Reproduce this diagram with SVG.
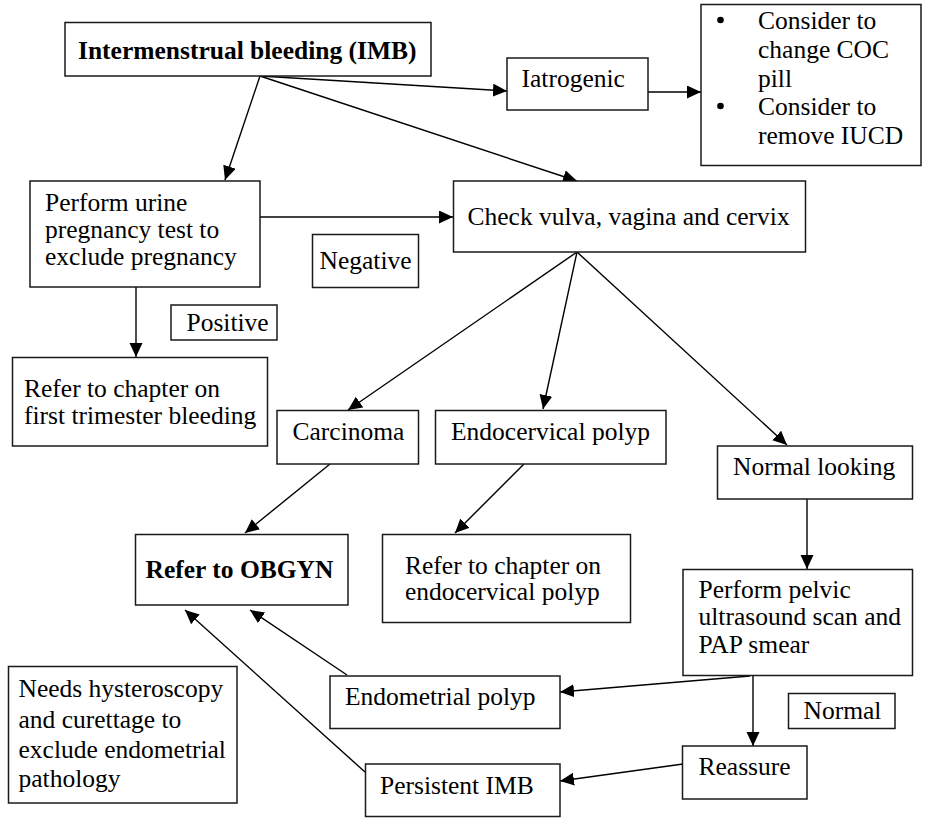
<svg xmlns="http://www.w3.org/2000/svg" width="926" height="819" viewBox="0 0 926 819">
  <style>
    .box { fill: #ffffff; stroke: #1a1a1a; stroke-width: 1.5; }
    .t { font-family: "Liberation Serif", "Times New Roman", serif; font-size: 25.5px; fill: #000000; }
    .b { font-weight: bold; }
    .edge { fill: none; stroke: #000000; stroke-width: 1.4; marker-end: url(#arrow); }
  </style>
  <defs>
    <marker id="arrow" markerUnits="userSpaceOnUse" markerWidth="15" markerHeight="14" refX="14" refY="6.5" orient="auto">
      <path d="M0,0 L14,6.5 L0,13 z" fill="#000000"/>
    </marker>
  </defs>
  <rect width="926" height="819" fill="#ffffff"/>

  <!-- connectors -->
  <g id="connectors">
    <line class="edge" x1="260" y1="76" x2="225" y2="180"/>
    <line class="edge" x1="260" y1="76" x2="507" y2="91"/>
    <line class="edge" x1="260" y1="76" x2="577" y2="181"/>
    <line class="edge" x1="648" y1="92" x2="701" y2="92"/>
    <line class="edge" x1="260" y1="217" x2="453" y2="217"/>
    <line class="edge" x1="136" y1="287" x2="136" y2="357"/>
    <line class="edge" x1="577" y1="252" x2="348" y2="410"/>
    <line class="edge" x1="577" y1="252" x2="543" y2="409"/>
    <line class="edge" x1="577" y1="252" x2="787" y2="445"/>
    <line class="edge" x1="330" y1="464" x2="245" y2="533"/>
    <line class="edge" x1="524" y1="464" x2="455" y2="533"/>
    <line class="edge" x1="807" y1="499" x2="807" y2="569"/>
    <line class="edge" x1="750" y1="676" x2="560" y2="692"/>
    <line class="edge" x1="753" y1="675" x2="753" y2="746"/>
    <line class="edge" x1="683" y1="764" x2="560" y2="781"/>
    <line class="edge" x1="347" y1="675" x2="250" y2="610"/>
    <line class="edge" x1="365" y1="772" x2="185" y2="610"/>
  </g>

  <g id="imb">
    <rect class="box" x="65" y="22.5" width="366" height="53.5"/>
    <text class="t b" x="78" y="59">Intermenstrual bleeding (IMB)</text>
  </g>

  <g id="iatrogenic">
    <rect class="box" x="507" y="58" width="141" height="52"/>
    <text class="t" x="521.5" y="87">Iatrogenic</text>
  </g>

  <g id="advice">
    <rect class="box" x="701" y="4.5" width="220" height="161"/>
    <circle cx="720.5" cy="20" r="3.3" fill="#000"/>
    <circle cx="720.5" cy="106" r="3.3" fill="#000"/>
    <text class="t" x="758" y="29">Consider to</text>
    <text class="t" x="758" y="58">change COC</text>
    <text class="t" x="758" y="87">pill</text>
    <text class="t" x="758" y="115">Consider to</text>
    <text class="t" x="758" y="144">remove IUCD</text>
  </g>

  <g id="pregnancy-test">
    <rect class="box" x="30" y="181" width="230" height="106"/>
    <text class="t" x="45" y="211">Perform urine</text>
    <text class="t" x="45" y="238">pregnancy test to</text>
    <text class="t" x="45" y="264.5">exclude pregnancy</text>
  </g>

  <g id="check">
    <rect class="box" x="453.5" y="181" width="352" height="71"/>
    <text class="t" x="467.5" y="225">Check vulva, vagina and cervix</text>
  </g>

  <g id="negative">
    <rect class="box" x="312.5" y="234.5" width="106" height="53"/>
    <text class="t" x="319.5" y="269">Negative</text>
  </g>

  <g id="positive">
    <rect class="box" x="171" y="305" width="106" height="35"/>
    <text class="t" x="186.5" y="330.5">Positive</text>
  </g>

  <g id="first-trimester">
    <rect class="box" x="12.5" y="357.5" width="255" height="88.5"/>
    <text class="t" x="24" y="397">Refer to chapter on</text>
    <text class="t" x="24" y="424">first trimester bleeding</text>
  </g>

  <g id="carcinoma">
    <rect class="box" x="277" y="410.5" width="141.5" height="53.5"/>
    <text class="t" x="292.5" y="440">Carcinoma</text>
  </g>

  <g id="endocervical-polyp">
    <rect class="box" x="435.5" y="410.5" width="230.5" height="53.5"/>
    <text class="t" x="451" y="440">Endocervical polyp</text>
  </g>

  <g id="normal-looking">
    <rect class="box" x="717.5" y="446" width="195" height="53"/>
    <text class="t" x="733" y="475">Normal looking</text>
  </g>

  <g id="obgyn">
    <rect class="box" x="135.5" y="534.5" width="212.5" height="70.5"/>
    <text class="t b" x="145.5" y="578">Refer to OBGYN</text>
  </g>

  <g id="refer-endocervical">
    <rect class="box" x="382.5" y="534.5" width="248" height="88"/>
    <text class="t" x="405" y="573.5">Refer to chapter on</text>
    <text class="t" x="405" y="600">endocervical polyp</text>
  </g>

  <g id="pelvic-scan">
    <rect class="box" x="683" y="569.5" width="229.5" height="106"/>
    <text class="t" x="698.5" y="598">Perform pelvic</text>
    <text class="t" x="698.5" y="625">ultrasound scan and</text>
    <text class="t" x="698.5" y="652.5">PAP smear</text>
  </g>

  <g id="hysteroscopy">
    <rect class="box" x="8.5" y="666.5" width="228.5" height="136.5"/>
    <text class="t" x="18.5" y="697">Needs hysteroscopy</text>
    <text class="t" x="18.5" y="727.5">and curettage to</text>
    <text class="t" x="18.5" y="757.5">exclude endometrial</text>
    <text class="t" x="18.5" y="787">pathology</text>
  </g>

  <g id="endometrial-polyp">
    <rect class="box" x="330" y="676" width="230" height="52.5"/>
    <text class="t" x="345" y="705">Endometrial polyp</text>
  </g>

  <g id="normal">
    <rect class="box" x="788.5" y="693.5" width="106.5" height="35"/>
    <text class="t" x="803.5" y="718.5">Normal</text>
  </g>

  <g id="reassure">
    <rect class="box" x="682.5" y="746" width="124.5" height="53"/>
    <text class="t" x="698.5" y="775">Reassure</text>
  </g>

  <g id="persistent-imb">
    <rect class="box" x="365.5" y="764" width="194.5" height="52.5"/>
    <text class="t" x="380" y="793.5">Persistent IMB</text>
  </g>
</svg>
